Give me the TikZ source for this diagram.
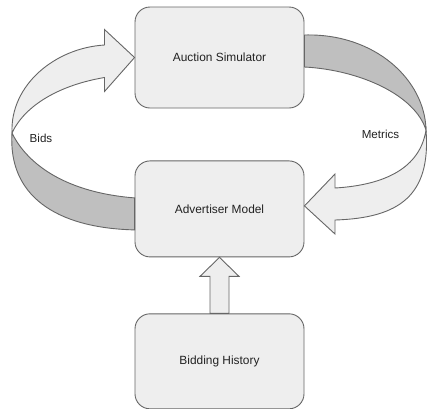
\documentclass[tikz,border=0pt]{standalone}
\usepackage{fontspec}
\setmainfont{Liberation Sans}
\usetikzlibrary{positioning,calc}

\definecolor{boxfill}{HTML}{EEEEEE}
\definecolor{boxline}{HTML}{666666}
\definecolor{ribbonback}{HTML}{BFBFBF}
\definecolor{labeltext}{HTML}{222222}

\tikzset{
  stage/.style={draw=boxline, fill=boxfill, rounded corners=15pt, line width=0.9pt,
    minimum width=169pt, minimum height=96pt, text=labeltext,
    font=\fontsize{11.9}{14}\selectfont},
  front/.style={draw=boxline, fill=boxfill, line width=0.9pt, line join=miter},
  back/.style={draw=boxline, fill=ribbonback, line width=0.9pt},
  flowlabel/.style={text=labeltext, font=\fontsize{11.6}{14}\selectfont},
}

\begin{document}
\begin{tikzpicture}[x=1pt,y=1pt]
\useasboundingbox (0,0) rectangle (427,-408);

      % Define nodes
	  \node[stage, minimum height=101pt]               (sim) at (219.5,-57.5) {Auction Simulator};
	  \node[stage, below=52pt of sim]                  (model) {Advertiser Model};
	  \node[stage, minimum height=95pt, below=56pt of model] (history) {Bidding History};

	  \coordinate (bids-twist)    at (12,-133);
	  \coordinate (metrics-twist) at (426,-130);

	  % Bids ribbon, from the model round to the simulator
	  \draw[back] (bids-twist) .. controls (8,-195) and (55,-228) .. ($(model.west)+(0,-21)$)
	    -- ($(model.west)+(0,11)$) .. controls (60,-192) and (25,-160) .. (bids-twist) -- cycle;
	  \draw[front] (bids-twist) .. controls (10,-85) and (55,-48) .. (104.5,-45)
	    -- (104.5,-29.5) -- (sim.west) -- (104.5,-91.5) -- (104.5,-77.5)
	    .. controls (60,-85) and (25,-105) .. (bids-twist) -- cycle;

	  % Metrics ribbon, from the simulator back to the model
	  \draw[back] ($(sim.east)+(0,22.5)$) .. controls (375,-33) and (425,-80) .. (metrics-twist)
	    .. controls (415,-95) and (360,-70) .. ($(sim.east)+(0,-9.5)$) -- cycle;
	  \draw[front] (metrics-twist) .. controls (431,-195) and (400,-218) .. (335,-220)
	    -- (335,-234) -- ($(model.east)+(0,3)$) -- (335,-174) -- (335,-188)
	    .. controls (385,-185) and (420,-168) .. (metrics-twist) -- cycle;

	  % History feeds the model
	  \draw[front] ($(history.north)+(-9.5,0)$) -- ++(0,37) -- ++(-10,0) -- (model.south)
	    -- ($(model.south)+(19.5,-19)$) -- ++(-10,0) -- ($(history.north)+(9.5,0)$) -- cycle;

	  % Labels
	  \node[flowlabel] (bids-label)    at (41,-138)    {Bids};
	  \node[flowlabel] (metrics-label) at (380.5,-134) {Metrics};

\end{tikzpicture}
\end{document}
